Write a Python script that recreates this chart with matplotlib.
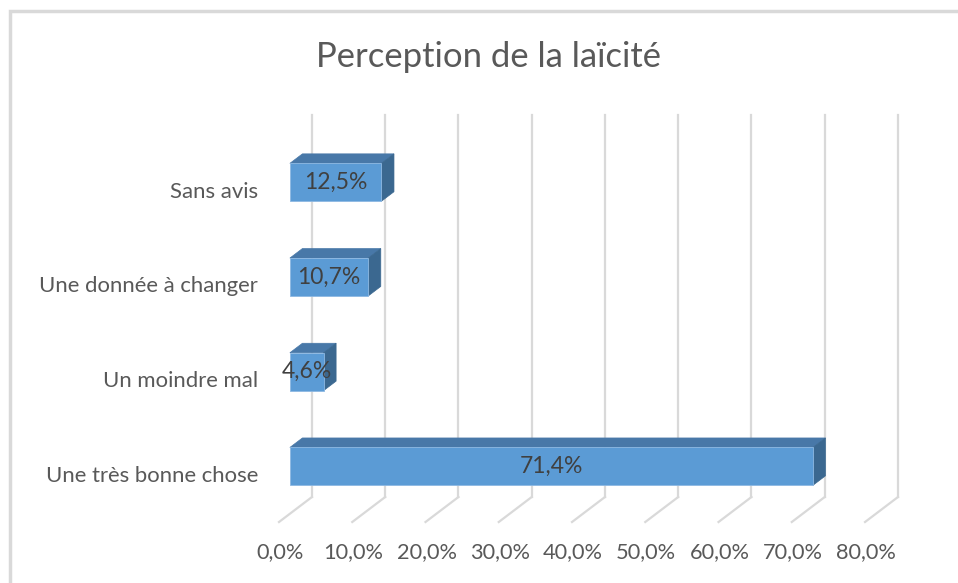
import matplotlib
matplotlib.use("Agg")
import matplotlib.pyplot as plt
from matplotlib.patches import Polygon, Rectangle
from matplotlib.transforms import offset_copy

plt.rcParams['font.family'] = ['Lato', 'DejaVu Sans']

title = "Perception de la laïcité"
categories = ["Une très bonne chose", "Un moindre mal", "Une donnée à changer", "Sans avis"]
values = [71.4, 4.6, 10.7, 12.5]
value_labels = ["71,4%", "4,6%", "10,7%", "12,5%"]
ticks = [0, 10, 20, 30, 40, 50, 60, 70, 80]
tick_labels = ["0,0%", "10,0%", "20,0%", "30,0%", "40,0%", "50,0%", "60,0%", "70,0%", "80,0%"]

# oblique projection parameters (data units)
DX = 4.5      # depth shift along x (% units)
DY = 0.264    # depth shift along y (category units)
Z0, Z1 = 0.33, 0.71   # bar depth span (0 = front, 1 = back)
BH = 0.40     # bar height

front_c = "#5B9BD5"
top_c = "#4878A8"
side_c = "#3B6890"
grid_c = "#D9D9D9"
text_c = "#595959"

def P(x, y, z):
    return (x - (1 - z) * DX, y - (1 - z) * DY)

fig = plt.figure(figsize=(9.58, 5.83), dpi=100)
fig.patch.set_facecolor("white")
# chart frame
fig.add_artist(Rectangle((9.5 / 958, -0.1), 2.0, 1.0 - 11 / 583 + 0.1,
                         transform=fig.transFigure, fill=False,
                         edgecolor="#D9D9D9", linewidth=2.5))

ax = fig.add_axes([279 / 958, 61 / 583, 619 / 958, 403.8 / 583])
ax.set_xlim(-DX, 80)
ax.set_ylim(-0.5 - DY, 3.5)
ax.axis("off")

# gridlines: back wall vertical + floor diagonals
for t in ticks:
    ax.plot([t, t], [-0.5, 3.535], color=grid_c, lw=1.6, zorder=1, clip_on=False)
    a = P(t, -0.5, 1)
    b = P(t, -0.5, 0)
    ax.plot([a[0], b[0]], [a[1], b[1]], color=grid_c, lw=1.6, zorder=1, clip_on=False)

for i, (v, lab) in enumerate(zip(values, value_labels)):
    y0, y1 = i - BH / 2, i + BH / 2
    # front face via barh
    fx, fy = P(0, y0, Z0)
    ax.barh(fy + BH / 2, v, height=BH, left=fx, color=front_c,
            edgecolor="#8DB8E2", linewidth=0.6, zorder=3)
    # top face
    top = [P(0, y1, Z0), P(v, y1, Z0), P(v, y1, Z1), P(0, y1, Z1)]
    ax.add_patch(Polygon(top, closed=True, facecolor=top_c, edgecolor=top_c,
                         linewidth=0.5, zorder=2))
    # side face
    side = [P(v, y0, Z0), P(v, y1, Z0), P(v, y1, Z1), P(v, y0, Z1)]
    ax.add_patch(Polygon(side, closed=True, facecolor=side_c, edgecolor=side_c,
                         linewidth=0.5, zorder=2))
    # data label
    cx, cy = P(v / 2, i, Z0)
    ax.text(cx, cy, lab, ha="center", va="center", fontsize=16.5,
            color="#404040", zorder=5)
    # category label
    lx, ly = P(0, i, 0)
    ax.text(lx, ly, categories[i], ha="right", va="center", fontsize=15.9,
            color=text_c, transform=offset_copy(ax.transData, fig, x=-21, y=-1, units="dots"))

# tick labels at the front floor edge
for t, tl in zip(ticks, tick_labels):
    px, py = P(t, -0.5, 0)
    ax.text(px, py, tl, ha="center", va="center", fontsize=15.7, color=text_c,
            transform=offset_copy(ax.transData, fig, x=1, y=-30, units="dots"))

fig.text(489 / 958, 1 - 57 / 583, title, ha="center", va="center",
         fontsize=24.9, color=text_c)

fig.savefig("out.png", dpi=100)
